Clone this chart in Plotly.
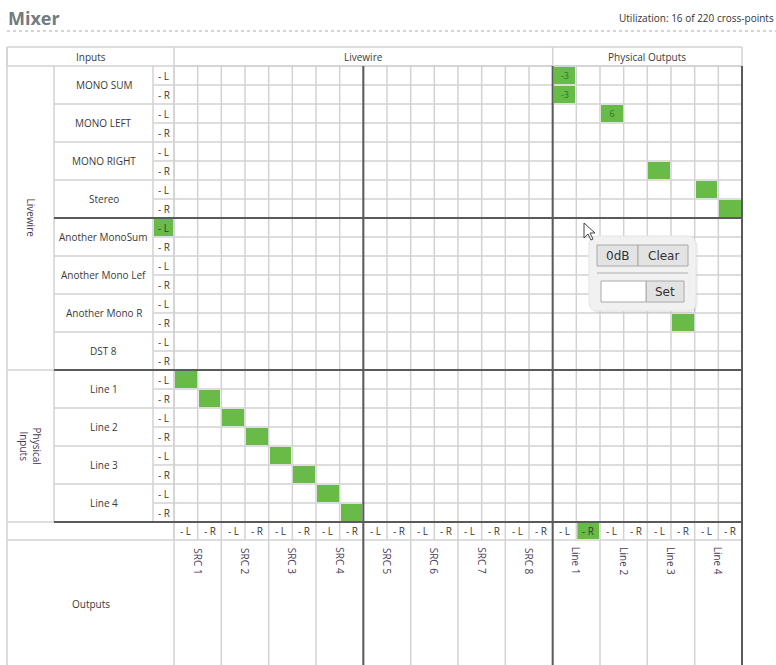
import plotly.graph_objects as go

# ---------------- data ----------------
TITLE = "Mixer"
UTILIZATION = "Utilization: 16 of 220 cross-points"
HEADER_GROUPS = ["Inputs", "Livewire", "Physical Outputs"]
INPUT_GROUPS = ["Livewire", "Physical<br>Inputs"]
LIVEWIRE_INPUTS = ["MONO SUM", "MONO LEFT", "MONO RIGHT", "Stereo",
                   "Another MonoSum", "Another Mono Lef", "Another Mono R", "DST 8"]
PHYSICAL_INPUTS = ["Line 1", "Line 2", "Line 3", "Line 4"]
LIVEWIRE_OUTPUTS = ["SRC 1", "SRC 2", "SRC 3", "SRC 4", "SRC 5", "SRC 6", "SRC 7", "SRC 8"]
PHYSICAL_OUTPUTS = ["Line 1", "Line 2", "Line 3", "Line 4"]
SIDES = ["- L", "- R"]
OUTPUTS_LABEL = "Outputs"
ACTIVE_ROWS = [0, 1, 2, 5, 6, 7, 13, 16, 17, 18, 19, 20, 21, 22, 23]
ACTIVE_COLS = [16, 16, 18, 20, 22, 23, 21, 0, 1, 2, 3, 4, 5, 6, 7]
ACTIVE_GAIN = ["-3", "-3", "6", "", "", "", "", "", "", "", "", "", "", "", ""]
HOVER_ROW = 8
HOVER_COL = 17
POPUP_BUTTONS = ["0dB", "Clear", "Set"]

# ---------------- geometry ----------------
W, H = 776, 665
X_TABLE, X_NAME, X_SIDE, X_GRID, X_RIGHT = 7, 54, 153, 174, 742
Y_TOP, Y_GRID, RH = 47, 66, 19
n_in = len(LIVEWIRE_INPUTS) + len(PHYSICAL_INPUTS)
n_out = len(LIVEWIRE_OUTPUTS) + len(PHYSICAL_OUTPUTS)
n_rows, n_cols = 2 * n_in, 2 * n_out
CW = (X_RIGHT - X_GRID) / n_cols
Y_GRID_END = Y_GRID + n_rows * RH
Y_SIDE_END = Y_GRID_END + 18
Y_BOTTOM = H

LIGHT = "#d2d2d2"
DARK = "#5a5a5a"
GREEN = "#67bb46"
TXT = "#3a3a3a"
FONT = "Open Sans"


def cx(c):
    return X_GRID + c * CW


def ry(r):
    return Y_GRID + r * RH


shapes = []
ann = []


def line(x0, y0, x1, y1, color=LIGHT, w=1.5, dash=None, layer="below"):
    d = dict(type="line", xref="x", yref="y", x0=x0, y0=y0, x1=x1, y1=y1,
             line=dict(color=color, width=w), layer=layer)
    if dash:
        d["line"]["dash"] = dash
    shapes.append(d)


def rect(x0, y0, x1, y1, fill, color=None, w=0, layer="below"):
    shapes.append(dict(type="rect", xref="x", yref="y", x0=x0, y0=y0, x1=x1, y1=y1,
                       fillcolor=fill, line=dict(color=color or fill, width=w), layer=layer))


def text(x, y, s, size=10, color=TXT, angle=0, xanchor="center", yanchor="middle",
         family=FONT, weight=None):
    f = dict(size=size, color=color, family=family)
    if weight:
        f["weight"] = weight
    ann.append(dict(x=x, y=y, xref="x", yref="y", text=s, showarrow=False,
                    textangle=angle, xanchor=xanchor, yanchor=yanchor, font=f))


def rounded(x0, y0, x1, y1, r):
    return (f"M {x0+r},{y0} L {x1-r},{y0} Q {x1},{y0} {x1},{y0+r} "
            f"L {x1},{y1-r} Q {x1},{y1} {x1-r},{y1} L {x0+r},{y1} "
            f"Q {x0},{y1} {x0},{y1-r} L {x0},{y0+r} Q {x0},{y0} {x0+r},{y0} Z")


# title
text(X_TABLE - 1, 18, TITLE, size=18, color="#737a80", xanchor="left", weight=700)
text(W, 18, UTILIZATION, size=10, color="#333", xanchor="right")
line(X_TABLE, 31, W, 31, color="#aaaaaa", w=1, dash="dot")

# header row
line(X_TABLE, Y_TOP, X_RIGHT, Y_TOP)
line(X_TABLE, Y_GRID, X_RIGHT, Y_GRID)
n_lw_cols = 2 * len(LIVEWIRE_OUTPUTS)
hdr_bounds = [X_TABLE, X_GRID, cx(n_lw_cols), X_RIGHT]
for x in hdr_bounds:
    line(x, Y_TOP, x, Y_GRID)
for i, s in enumerate(HEADER_GROUPS):
    text((hdr_bounds[i] + hdr_bounds[i + 1]) / 2, (Y_TOP + Y_GRID) / 2, s)

# left table border
line(X_TABLE, Y_TOP, X_TABLE, Y_BOTTOM)

# row labels
all_inputs = LIVEWIRE_INPUTS + PHYSICAL_INPUTS
group_rows = [2 * len(LIVEWIRE_INPUTS), 2 * len(PHYSICAL_INPUTS)]
start = 0
for g, cnt in zip(INPUT_GROUPS, group_rows):
    text((X_TABLE + X_NAME) / 2, (ry(start) + ry(start + cnt)) / 2, g, angle=90, size=10,
         color="#4a3a55")
    line(X_TABLE, ry(start + cnt), X_NAME, ry(start + cnt))
    start += cnt
line(X_NAME, Y_GRID, X_NAME, Y_GRID_END)
line(X_SIDE, Y_GRID, X_SIDE, Y_GRID_END)
line(X_GRID, Y_GRID, X_GRID, Y_SIDE_END)

# hover highlight on row label and column label
rect(X_SIDE + 1, ry(HOVER_ROW) + 1, X_GRID - 1, ry(HOVER_ROW + 1) - 1, GREEN)
rect(cx(HOVER_COL) + 1, Y_GRID_END + 1, cx(HOVER_COL + 1) - 1, Y_SIDE_END - 1, GREEN)

for i, name in enumerate(all_inputs):
    text((X_NAME + X_SIDE) / 2, ry(2 * i + 1), name)
    line(X_NAME, ry(2 * i + 2), X_GRID, ry(2 * i + 2))
    for k, sd in enumerate(SIDES):
        text((X_SIDE + X_GRID) / 2, ry(2 * i + k) + RH / 2, sd, size=10)
    line(X_SIDE, ry(2 * i + 1), X_GRID, ry(2 * i + 1))

# grid lines
for r in range(n_rows + 1):
    line(X_GRID, ry(r), X_RIGHT, ry(r))
for c in range(n_cols + 1):
    line(cx(c), Y_GRID, cx(c), Y_SIDE_END)

# bottom side labels row and outputs
line(X_TABLE, Y_SIDE_END, X_RIGHT, Y_SIDE_END)
all_outputs = LIVEWIRE_OUTPUTS + PHYSICAL_OUTPUTS
for j, name in enumerate(all_outputs):
    for k, sd in enumerate(SIDES):
        text(cx(2 * j + k) + CW / 2, (Y_GRID_END + Y_SIDE_END) / 2, sd, size=10)
    line(cx(2 * j + 2), Y_SIDE_END, cx(2 * j + 2), Y_BOTTOM)
    text(cx(2 * j + 1), Y_SIDE_END + 21, name, angle=90, size=10, color="#4a3a55")
line(X_GRID, Y_SIDE_END, X_GRID, Y_BOTTOM)
text((X_TABLE + X_GRID) / 2, 604, OUTPUTS_LABEL)

# dark separators
sep_rows = [len(LIVEWIRE_INPUTS), 2 * len(LIVEWIRE_INPUTS), n_rows]
for r in sep_rows:
    line(X_NAME, ry(r), X_RIGHT, ry(r), color=DARK, w=2, layer="above")
sep_cols = [len(LIVEWIRE_OUTPUTS), n_lw_cols, n_cols]
for c in sep_cols:
    line(cx(c), Y_GRID, cx(c), Y_BOTTOM, color=DARK, w=2, layer="above")

# cross-point cells (heatmap)
z = [[None] * n_cols for _ in range(n_rows)]
t = [[""] * n_cols for _ in range(n_rows)]
for r, c, g in zip(ACTIVE_ROWS, ACTIVE_COLS, ACTIVE_GAIN):
    z[r][c] = 1
    t[r][c] = g
heat = go.Heatmap(z=z, text=t, texttemplate="%{text}",
                  textfont=dict(size=9, color="#2a7a2a", family=FONT),
                  x0=X_GRID + CW / 2, dx=CW, y0=Y_GRID + RH / 2, dy=RH,
                  colorscale=[[0, GREEN], [1, GREEN]], showscale=False,
                  xgap=2, ygap=2, hoverinfo="skip", zmin=0, zmax=1)

# popup
px0, py0, px1, py1 = 589, 236, 696, 311
shapes.append(dict(type="path", path=rounded(px0 + 2, py0 + 2, px1 + 2, py1 + 2, 9),
                   fillcolor="rgba(0,0,0,0.06)", line=dict(width=0), layer="above"))
shapes.append(dict(type="path", path=rounded(px0, py0, px1, py1, 9),
                   fillcolor="#f1f1f1", line=dict(color="#e4e4e4", width=1), layer="above"))
btns = [(597, 245, 638, 266), (638, 245, 688, 266), (646, 281, 684, 302)]
for (x0, y0, x1, y1), lab in zip(btns, POPUP_BUTTONS):
    rect(x0, y0, x1, y1, "#e3e3e3", color="#a8a8a8", w=1, layer="above")
    text((x0 + x1) / 2, (y0 + y1) / 2, lab, size=12, color="#333", family="DejaVu Sans")
rect(601, 281, 646, 302, "#ffffff", color="#a8a8a8", w=1, layer="above")
line(597, 273, 688, 273, color="#c4c4c4", w=1.5, layer="above")

# mouse cursor
mx, my = 584, 223
shapes.append(dict(type="path",
                   path=f"M {mx},{my} L {mx},{my+15} L {mx+4},{my+11} L {mx+7},{my+17} "
                        f"L {mx+9},{my+16} L {mx+6},{my+10} L {mx+11},{my+10} Z",
                   fillcolor="white", line=dict(color="#444", width=1), layer="above"))

fig = go.Figure(heat)
fig.update_layout(
    width=W, height=H, margin=dict(l=0, r=0, t=0, b=0),
    paper_bgcolor="white", plot_bgcolor="white",
    xaxis=dict(range=[0, W], visible=False, fixedrange=True),
    yaxis=dict(range=[H, 0], visible=False, fixedrange=True),
    shapes=shapes, annotations=ann, showlegend=False,
)
fig.write_html("out.html", config={"displayModeBar": False},
               post_script="document.body.style.margin='0';")
